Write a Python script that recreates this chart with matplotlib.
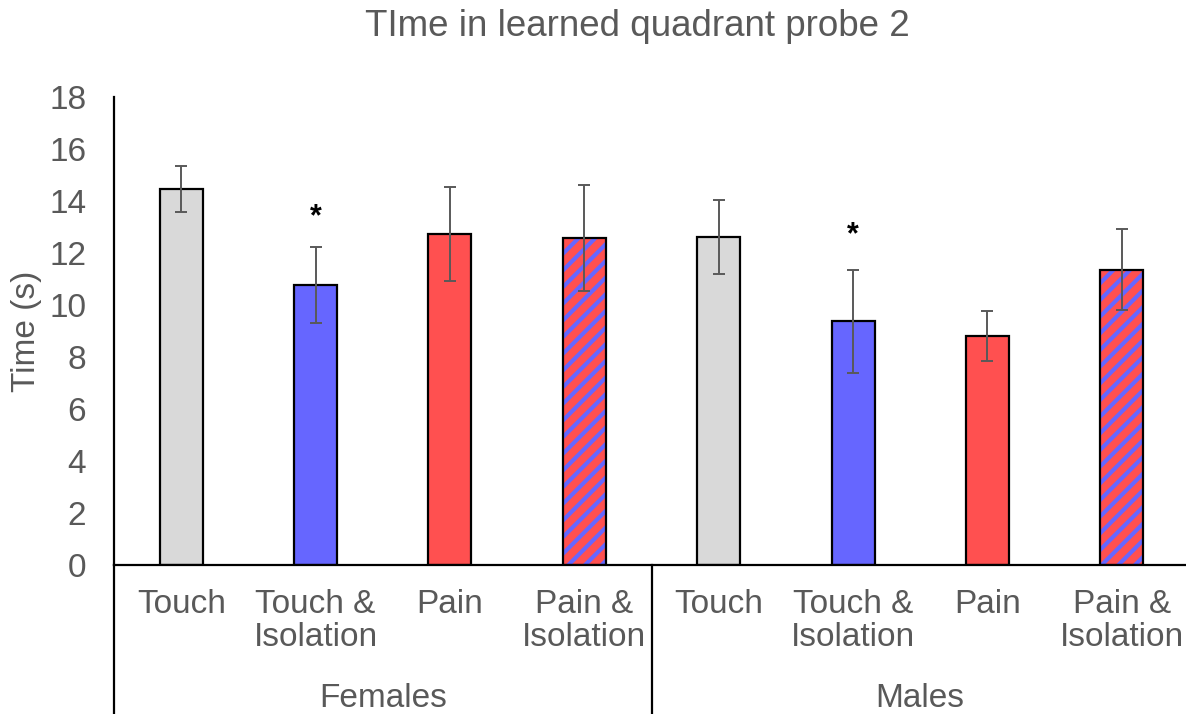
import matplotlib.pyplot as plt
from matplotlib.lines import Line2D

# data
groups = ["Females", "Males"]
conditions = ["Touch", "Touch &\nIsolation", "Pain", "Pain &\nIsolation"]
females_mean = [14.46, 10.77, 12.73, 12.58]
females_err = [0.90, 1.48, 1.80, 2.04]
males_mean = [12.60, 9.38, 8.81, 11.35]
males_err = [1.42, 1.98, 0.95, 1.56]
star_y = [13.65, 12.96]  # asterisks above Touch & Isolation

plt.rcParams["font.family"] = ["Liberation Sans", "DejaVu Sans"]
plt.rcParams["hatch.linewidth"] = 3.0

grey_txt = "#595959"
fills = ["#D9D9D9", "#6666FF", "#FF5050", "#FF5050"]

means = females_mean + males_mean
errs = females_err + males_err
labels = conditions + conditions
x = list(range(len(means)))
cols = fills + fills

fig = plt.figure(figsize=(11.86, 7.14), dpi=100)
ax = fig.add_axes([114 / 1186, 149 / 714, 1075 / 1186, 468 / 714])

w = 0.32
for i in x:
    if labels[i].startswith("Pain &"):
        # red bar with blue diagonal stripes, then black outline
        ax.bar(i, means[i], w, color="#FF5050", edgecolor="#6666FF",
               hatch="//", linewidth=0, zorder=2)
        ax.bar(i, means[i], w, fill=False, edgecolor="black",
               linewidth=1.6, zorder=3)
    else:
        ax.bar(i, means[i], w, color=cols[i], edgecolor="black",
               linewidth=1.6, zorder=2)

ax.errorbar(x, means, yerr=errs, fmt="none", ecolor=grey_txt,
            elinewidth=1.4, capsize=4.3, capthick=1.4, zorder=4)

# significance stars (glyph sits above the text centre, so nudge down)
ax.text(1, star_y[0] - 0.27, "*", ha="center", va="center", fontsize=22,
        fontweight="bold", color="black")
ax.text(5, star_y[1] - 0.27, "*", ha="center", va="center", fontsize=22,
        fontweight="bold", color="black")

ax.set_xlim(-0.5, 7.5)
ax.set_ylim(0, 18)
ax.set_yticks(range(0, 19, 2))
ax.tick_params(axis="y", length=0, pad=20, labelsize=24, labelcolor=grey_txt)
ax.set_xticks(x)
ax.set_xticklabels(labels, linespacing=1.1)
ax.tick_params(axis="x", length=0, pad=17, labelsize=24, labelcolor=grey_txt)

for s in ["top", "right"]:
    ax.spines[s].set_visible(False)
ax.spines["left"].set_linewidth(1.6)
ax.spines["bottom"].set_linewidth(1.6)

# group separators below the axis
for xs in [-0.5, 3.5, 7.5]:
    ax.add_line(Line2D([xs, xs], [0, -0.318], transform=ax.get_xaxis_transform(),
                       color="black", linewidth=1.6, clip_on=False))
for gi, g in enumerate(groups):
    ax.text(1.5 + 4 * gi, -0.285, g, transform=ax.get_xaxis_transform(),
            ha="center", va="center", fontsize=24, color=grey_txt)

fig.text(27 / 1186, 1 - 331 / 714, "Time (s)", rotation=90, ha="center",
         va="center", fontsize=24, color=grey_txt)
fig.text(637 / 1186, 1 - 26 / 714, "TIme in learned quadrant probe 2",
         ha="center", va="center", fontsize=26.5, color=grey_txt)

fig.savefig("out.png", dpi=100)
